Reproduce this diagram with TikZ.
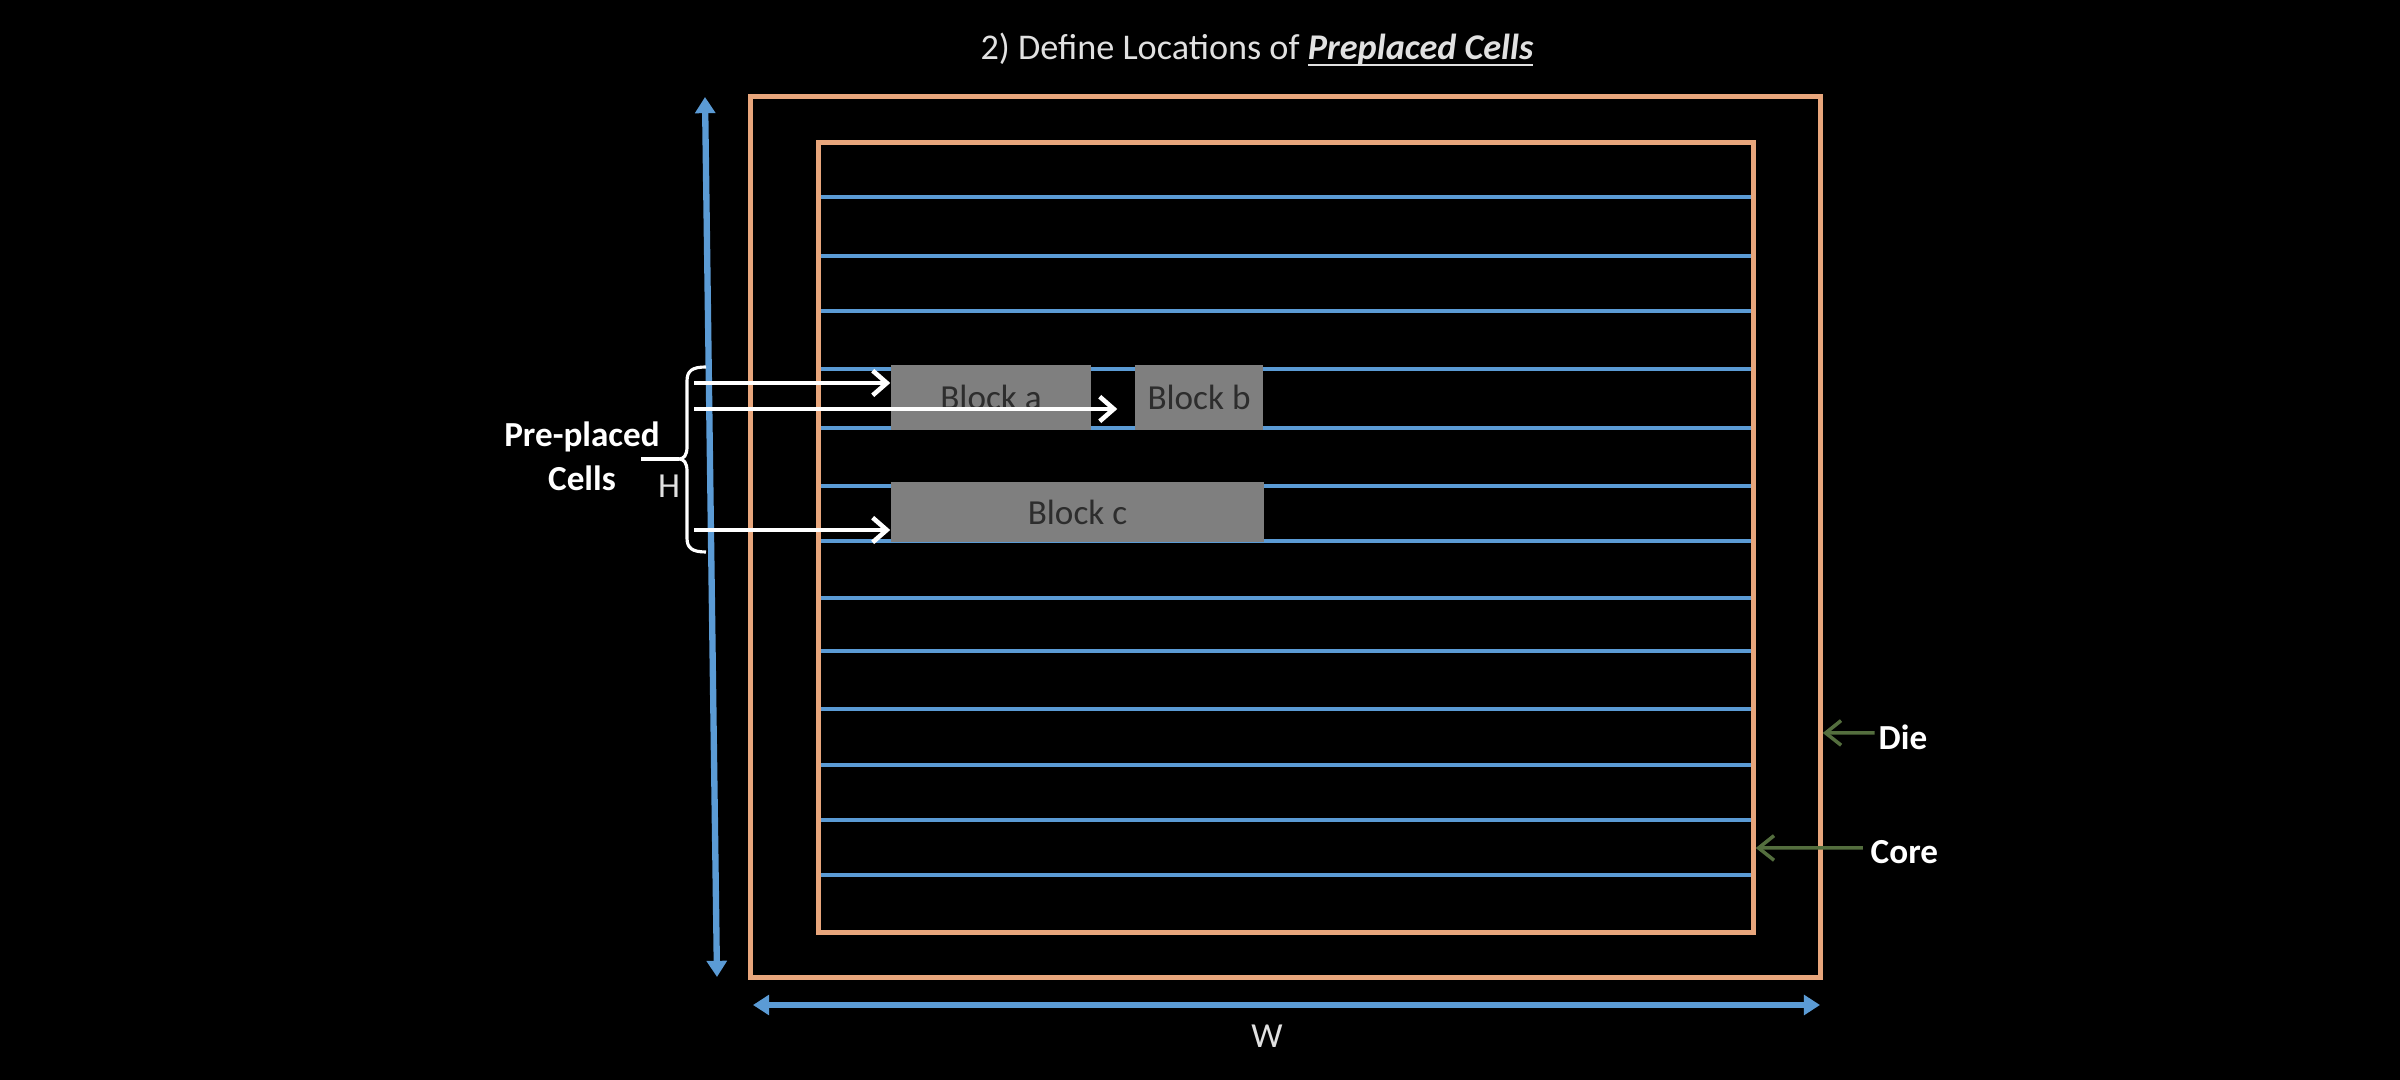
\documentclass[tikz,border=0pt]{standalone}
\usepackage{fontspec}
\setmainfont{Carlito}
\usetikzlibrary{arrows.meta}
\definecolor{diecol}{RGB}{232,166,124}
\definecolor{rowblue}{RGB}{91,155,213}
\definecolor{blockgray}{RGB}{127,127,127}
\definecolor{blocktext}{RGB}{45,45,45}
\definecolor{pointgreen}{RGB}{84,110,62}
\definecolor{titlegray}{RGB}{225,225,225}
% underline that sits just under the baseline
\newcommand\ulwords[1]{\setbox0\hbox{#1}\rlap{\rule[-1.6pt]{\wd0}{0.6pt}}\box0}
\begin{document}
\begin{tikzpicture}[x=0.01cm,y=-0.01cm,
  outline/.style={draw=diecol, line width=1.4pt, inner sep=0pt, outer sep=0pt},
  row/.style={draw=rowblue, line width=1.35pt},
  dimarrow/.style={draw=rowblue, line width=1.8pt,
    {Triangle[length=4.6pt,width=5.6pt]}-{Triangle[length=4.6pt,width=5.6pt]}},
  blockbox/.style={fill=blockgray, draw=none, text=blocktext, inner sep=0pt,
    font=\fontsize{10}{12}\selectfont},
  pointer/.style={draw=white, line width=1.3pt, -{Straight Barb[length=4pt,width=7pt]}},
  bracket/.style={draw=white, line width=0.9pt},
  tag/.style={text=white, font=\bfseries\fontsize{10}{12}\selectfont, inner sep=0pt},
  dimtext/.style={text=titlegray, font=\fontsize{10}{12}\selectfont, inner sep=0pt},
  marker/.style={draw=pointgreen, line width=1pt, -{Straight Barb[length=4.4pt,width=7pt]}}]

% canvas
\fill[black] (0,0) rectangle (2400,1080);
\useasboundingbox (0,0) rectangle (2400,1080);

% title
\node[anchor=base, text=titlegray, font=\fontsize{10.3}{12}\selectfont, inner sep=0pt] (title) at (1257,60)
  {2) Define Locations of \ulwords{\textbf{\textit{Preplaced Cells}}}};

% placement rows inside the core
\foreach \ry in {197,256,311,369,428,486,541,598,651,709,765,820,875}
  \draw[row] (821,\ry) -- (1751,\ry);

% die and core outlines
\node[outline, minimum width=10.69cm, minimum height=8.80cm] (die) at (1285.5,537) {};
\node[outline, minimum width=9.34cm, minimum height=7.89cm] (core) at (1286,537.5) {};

% pre-placed blocks
\node[blockbox, minimum width=2.00cm, minimum height=0.65cm] (blka) at (991,397.5) {Block a};
\node[blockbox, minimum width=1.28cm, minimum height=0.65cm] (blkb) at (1199,397.5) {Block b};
\node[blockbox, minimum width=3.73cm, minimum height=0.60cm] (blkc) at (1077.5,512) {Block c};

% height and width dimensions
\coordinate (htop) at (705,97);
\coordinate (hbot) at (717,977);
\draw[dimarrow] (htop) -- (hbot);
\coordinate (wl) at (753,1005);
\coordinate (wr) at (1820,1005);
\draw[dimarrow] (wl) -- (wr);
\node[dimtext] (hlbl) at (669,486) {H};
\node[dimtext] (wlbl) at (1267,1036) {W};

% brace gathering the pre-placed cells
\coordinate (btop) at (706,367);
\coordinate (bbot) at (706,552);
\coordinate (btip) at (679,459);
\draw[bracket] (btop) .. controls (692,367) and (687,371) .. (687,381) -- (687,447)
  .. controls (687,455) and (684,459) .. (btip)
  .. controls (684,459) and (687,463) .. (687,471) -- (687,538)
  .. controls (687,548) and (692,552) .. (bbot);
\node[tag, align=center, font=\bfseries\fontsize{10}{12.6}\selectfont] (cells) at (582,456) {Pre-placed\\Cells};
\coordinate (stub) at (641,459);
\draw[bracket] (stub) -- (btip);

% arrows pointing at the blocks
\coordinate (s1) at (694,383);
\coordinate (s2) at (694,409);
\coordinate (s3) at (694,530);
\draw[pointer] (s1) -- (blka.west |- s1);
\draw[pointer] (s2) -- ([xshift=-0.17cm]blkb.west |- s2);
\draw[pointer] (s3) -- (blkc.west |- s3);

% die and core callouts
\node[tag, anchor=west] (dielbl) at (1878,737) {Die};
\node[tag, anchor=west] (corelbl) at (1870,852) {Core};
\draw[marker] ([xshift=-1pt,yshift=1.2pt]dielbl.west) -- ([xshift=0.7pt]die.east |- 0,733);
\draw[marker] ([xshift=-2pt,yshift=1.2pt]corelbl.west) -- ([xshift=0.7pt]core.east |- 0,848);
\end{tikzpicture}
\end{document}
